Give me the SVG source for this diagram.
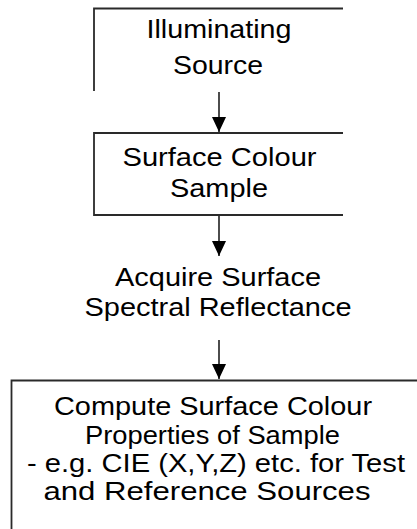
<svg xmlns="http://www.w3.org/2000/svg" width="417" height="529" viewBox="0 0 417 529">
  <style>
    .edge { fill: none; stroke: #2a2a2a; stroke-width: 1.8; }
    .label { font-family: "Liberation Sans", Arial, sans-serif; font-size: 26px; fill: #000; text-anchor: middle; }
    .wire { stroke: #000; stroke-width: 1.4; fill: none; }
  </style>
  <defs>
    <!-- solid downward arrowhead, tip at the end of the line -->
    <marker id="head" markerWidth="16" markerHeight="14" refX="15" refY="7" orient="auto" markerUnits="userSpaceOnUse">
      <path d="M0,0 L15,7 L0,14 Z" fill="#000"/>
    </marker>
  </defs>
  <rect width="417" height="529" fill="#fff"/>

  <g id="illuminating-source">
    <path class="edge" d="M94,91 L94,8.5 L343,8.5"/>
    <text class="label" x="219" y="38" textLength="145" lengthAdjust="spacingAndGlyphs">Illuminating</text>
    <text class="label" x="218" y="74" textLength="90" lengthAdjust="spacingAndGlyphs">Source</text>
  </g>

  <g id="surface-colour-sample">
    <path class="edge" d="M343,133 L94,133 L94,215 L343,215"/>
    <text class="label" x="219.5" y="166" textLength="194" lengthAdjust="spacingAndGlyphs">Surface Colour</text>
    <text class="label" x="219" y="197" textLength="98" lengthAdjust="spacingAndGlyphs">Sample</text>
  </g>

  <g id="acquire-reflectance">
    <text class="label" x="218" y="286" textLength="206" lengthAdjust="spacingAndGlyphs">Acquire Surface</text>
    <text class="label" x="218" y="316" textLength="267" lengthAdjust="spacingAndGlyphs">Spectral Reflectance</text>
  </g>

  <g id="compute-properties">
    <path class="edge" d="M11.5,529 L11.5,380.5 L417,380.5"/>
    <text class="label" x="213" y="415" textLength="318" lengthAdjust="spacingAndGlyphs">Compute Surface Colour</text>
    <text class="label" x="212.5" y="444" textLength="255" lengthAdjust="spacingAndGlyphs">Properties of Sample</text>
    <text class="label" x="216" y="472" textLength="378" lengthAdjust="spacingAndGlyphs">- e.g. CIE (X,Y,Z) etc. for Test</text>
    <text class="label" x="207" y="500" textLength="327" lengthAdjust="spacingAndGlyphs">and Reference Sources</text>
  </g>

  <g id="connectors">
    <line class="wire" x1="219" y1="92" x2="219" y2="132" marker-end="url(#head)"/>
    <line class="wire" x1="219" y1="216" x2="219" y2="256" marker-end="url(#head)"/>
    <line class="wire" x1="219" y1="340" x2="219" y2="379" marker-end="url(#head)"/>
  </g>
</svg>
